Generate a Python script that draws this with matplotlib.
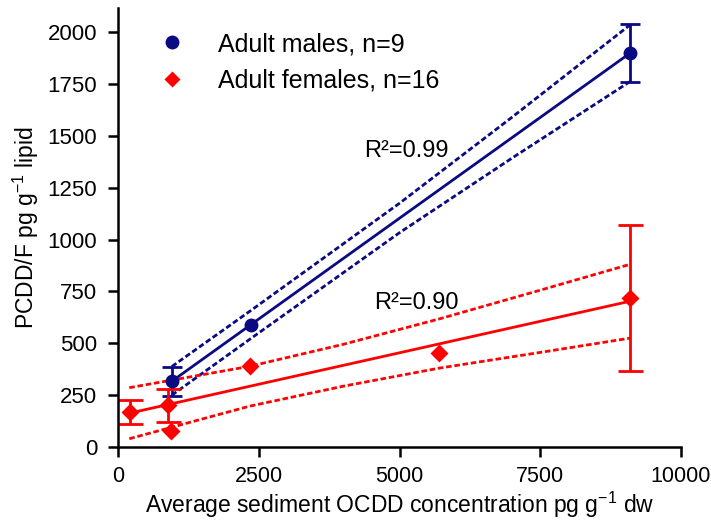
import numpy as np
import matplotlib
matplotlib.use("Agg")
import matplotlib.pyplot as plt
from matplotlib.lines import Line2D

plt.rcParams['font.family'] = ['Liberation Sans', 'DejaVu Sans']
plt.rcParams['mathtext.fontset'] = 'custom'
plt.rcParams['mathtext.rm'] = 'Liberation Sans'
plt.rcParams['mathtext.it'] = 'Liberation Sans:italic'
plt.rcParams['mathtext.default'] = 'regular'

# group means (sediment OCDD vs PCDD/F in lipid)
male_x = [956, 2354, 9097]
male_y = [318, 588, 1899]
male_err = [70, 0, 140]

female_x = [212, 885, 938, 2336, 5699, 9097]
female_y = [169, 202, 77, 390, 453, 718]
female_err = [60, 80, 0, 0, 0, 350]

# regression lines and 95% bands
male_fit_x = [956, 9097]
male_fit_y = [317, 1899]
male_band_x = [956, 2354, 5000, 7000, 9097]
male_upper = [388, 657, 1175, 1590, 2035]
male_lower = [250, 522, 1033, 1393, 1762]

female_fit_x = [200, 9100]
female_fit_y = [163, 703]
female_band_x = [200, 2340, 4000, 5700, 7500, 9100]
female_upper = [286, 389, 495, 617, 756, 881]
female_lower = [40, 197, 293, 380, 456, 525]

navy = '#0a0a82'
red = '#ff0000'

fig = plt.figure(figsize=(7.11, 5.21), dpi=100)
ax = fig.add_axes([0.166, 0.142, 0.7918, 0.8426])

dash = (2.0, 1.0)
ax.plot(male_fit_x, male_fit_y, color=navy, lw=2.0)
ax.plot(male_band_x, male_upper, color=navy, lw=2.0, dashes=dash)
ax.plot(male_band_x, male_lower, color=navy, lw=2.0, dashes=dash)

ax.plot(female_fit_x, female_fit_y, color=red, lw=2.0)
ax.plot(female_band_x, female_upper, color=red, lw=2.0, dashes=dash)
ax.plot(female_band_x, female_lower, color=red, lw=2.0, dashes=dash)

# error bars only where they were drawn
m = np.array(male_err) > 0
ax.errorbar(np.array(male_x)[m], np.array(male_y)[m], yerr=np.array(male_err)[m],
            fmt='none', ecolor=navy, elinewidth=2.0, capsize=7, capthick=2.0)
f = np.array(female_err) > 0
ax.errorbar(np.array(female_x)[f], np.array(female_y)[f], yerr=np.array(female_err)[f],
            fmt='none', ecolor=red, elinewidth=2.0, capsize=9, capthick=2.0)

ax.plot(male_x, male_y, 'o', color=navy, ms=10, mec='none', zorder=5)
ax.plot(female_x, female_y, 'D', color=red, ms=9, mec='none', zorder=5)

ax.text(4372, 1427, 'R²=0.99', fontsize=17, va='center', ha='left')
ax.text(4549, 694, 'R²=0.90', fontsize=17, va='center', ha='left')

handles = [Line2D([], [], ls='none', marker='o', color=navy, ms=10, mec='none'),
           Line2D([], [], ls='none', marker='D', color=red, ms=8, mec='none')]
ax.legend(handles, ['Adult males, n=9', 'Adult females, n=16'], loc='upper left',
          bbox_to_anchor=(0.073, 0.945), frameon=False, fontsize=18,
          handlelength=1, handletextpad=1.34, labelspacing=0.5,
          borderpad=0, borderaxespad=0)

ax.set_xlim(0, 10000)
ax.set_ylim(0, 2116)
ax.set_xticks([0, 2500, 5000, 7500, 10000])
ax.set_yticks(np.arange(0, 2001, 250))
for s in ['top', 'right']:
    ax.spines[s].set_visible(False)
for s in ['left', 'bottom']:
    ax.spines[s].set_linewidth(1.8)
ax.spines['left'].set_bounds(0, 2116)
ax.tick_params(axis='both', length=7, width=1.8, labelsize=16)
ax.tick_params(axis='x', labelsize=15.5)
ax.tick_params(axis='y', pad=8)
ax.tick_params(axis='x', pad=7)

ax.set_xlabel('Average sediment OCDD concentration pg g$^{-1}$ dw', fontsize=16.5, labelpad=2)
ax.set_ylabel('PCDD/F pg g$^{-1}$ lipid', fontsize=16.5, labelpad=5)

fig.savefig('out.png', dpi=100)
